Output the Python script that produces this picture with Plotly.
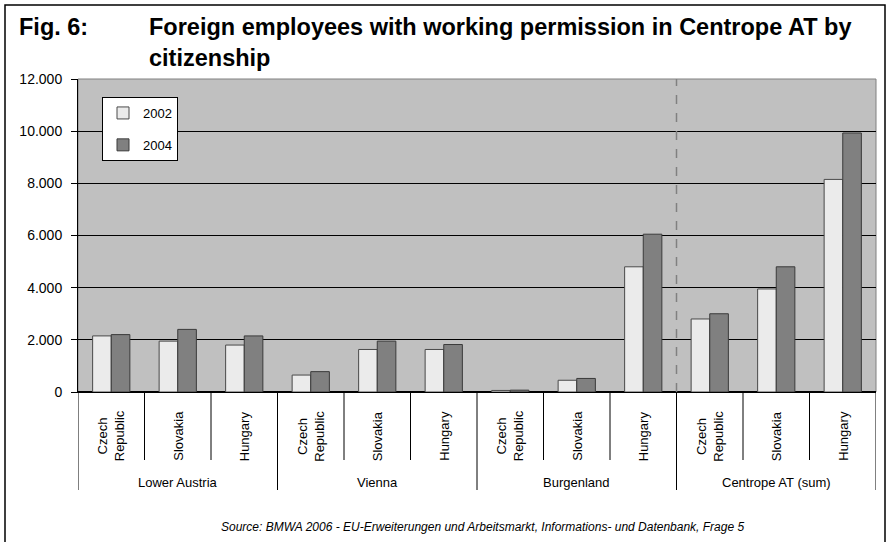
import plotly.graph_objects as go

# ---- data ----
regions = ["Lower Austria", "Vienna", "Burgenland", "Centrope AT (sum)"]
countries = ["Czech<br>Republic", "Slovakia", "Hungary"]
years = ["2002", "2004"]
values_2002 = [2150, 1950, 1800, 650, 1630, 1630, 60, 450, 4800, 2800, 3950, 8150]
values_2004 = [2200, 2400, 2150, 780, 1950, 1820, 70, 520, 6050, 3000, 4800, 9930]
y_ticks = [0, 2000, 4000, 6000, 8000, 10000, 12000]

n_cat = len(regions) * len(countries)
xpos = list(range(n_cat))

FONT = "Liberation Sans, Arial, sans-serif"

fig = go.Figure()
fig.add_trace(go.Bar(x=xpos, y=values_2002, name=years[0], legendgroup="a",
                     marker=dict(color="#EBEBEB", line=dict(color="#4a4a4a", width=1))))
fig.add_trace(go.Bar(x=xpos, y=values_2004, name=years[1], legendgroup="b",
                     marker=dict(color="#808080", line=dict(color="#3a3a3a", width=1))))

W, H = 890, 542
L, R, T, B = 78, 14, 79, 150
pw, ph = W - L - R, H - T - B

def px_x(x):
    return (x - L) / pw

def px_y(y):
    return (H - B - y) / ph

shapes = []
annotations = []

# plot border (grey)
shapes.append(dict(type="rect", xref="paper", yref="paper", x0=0, x1=1, y0=0, y1=1,
                   line=dict(color="#808080", width=1), layer="below"))
# dashed separator before the sum group
shapes.append(dict(type="line", xref="x", yref="y", x0=8.5, x1=8.5, y0=0, y1=y_ticks[-1],
                   line=dict(color="#808080", width=1.5, dash="dash"), layer="above"))
# category dividers below the axis
for k in range(n_cat + 1):
    xb = k - 0.5
    is_group = (k % len(countries) == 0)
    y_end = px_y(490) if is_group else px_y(460)
    shapes.append(dict(type="line", xref="x", yref="paper", x0=xb, x1=xb, y0=0, y1=y_end,
                       line=dict(color="black", width=1)))
# outer frame
shapes.append(dict(type="rect", xref="paper", yref="paper",
                   x0=px_x(5), x1=px_x(885), y0=px_y(560), y1=px_y(5),
                   line=dict(color="black", width=1.5)))

# sub-category labels
for i in range(n_cat):
    annotations.append(dict(x=i, y=px_y(436), xref="x", yref="paper",
                            text=countries[i % len(countries)], textangle=-90,
                            showarrow=False, font=dict(family=FONT, size=13, color="black"),
                            xanchor="center", yanchor="middle", align="center"))
# group labels
for g, reg in enumerate(regions):
    annotations.append(dict(x=g * 3 + 1, y=px_y(482), xref="x", yref="paper",
                            text=reg, showarrow=False,
                            font=dict(family=FONT, size=13, color="black"),
                            xanchor="center", yanchor="middle"))
# title
annotations.append(dict(x=px_x(17), y=px_y(27), xref="paper", yref="paper",
                        text="<b>Fig. 6:</b>", showarrow=False,
                        font=dict(family=FONT, size=23.5, color="black"),
                        xanchor="left", yanchor="middle"))
annotations.append(dict(x=px_x(147), y=px_y(12), xref="paper", yref="paper",
                        text="<b>Foreign employees with working permission in Centrope AT by<br>citizenship</b>",
                        showarrow=False, align="left",
                        font=dict(family=FONT, size=23.5, color="black"),
                        xanchor="left", yanchor="top"))
# source
annotations.append(dict(x=px_x(482), y=px_y(527), xref="paper", yref="paper",
                        text="<i>Source: BMWA 2006 - EU-Erweiterungen und Arbeitsmarkt, Informations- und Datenbank, Frage 5</i>",
                        showarrow=False, font=dict(family=FONT, size=12, color="black"),
                        xanchor="center", yanchor="middle"))

fig.update_layout(
    width=W, height=H,
    margin=dict(l=L, r=R, t=T, b=B, pad=0),
    paper_bgcolor="white",
    plot_bgcolor="#C0C0C0",
    barmode="group", bargap=0.44, bargroupgap=0,
    separators=",.",
    font=dict(family=FONT, size=12, color="black"),
    showlegend=True,
    legend=dict(x=px_x(102), y=px_y(97), xanchor="left", yanchor="top",
                bgcolor="white", bordercolor="black", borderwidth=1,
                font=dict(family=FONT, size=13, color="black"),
                traceorder="grouped", tracegroupgap=12,
                itemwidth=30),
    xaxis=dict(range=[-0.5, n_cat - 0.5], showticklabels=False, ticks="",
               showgrid=False, zeroline=False, showline=True, linecolor="black",
               linewidth=1, fixedrange=True),
    yaxis=dict(range=[0, y_ticks[-1]], tickvals=y_ticks, tickformat=",d",
               ticks="outside", ticklen=6, tickcolor="black", ticklabelstandoff=6,
               showgrid=True, gridcolor="black", gridwidth=1,
               zeroline=True, zerolinecolor="black",
               showline=True, linecolor="black", linewidth=1,
               tickfont=dict(family=FONT, size=14, color="black"), fixedrange=True),
    shapes=shapes,
    annotations=annotations,
)

fig.write_html("out.html", config={"displayModeBar": False},
               post_script="document.body.style.margin='0';document.body.style.overflow='hidden';")
